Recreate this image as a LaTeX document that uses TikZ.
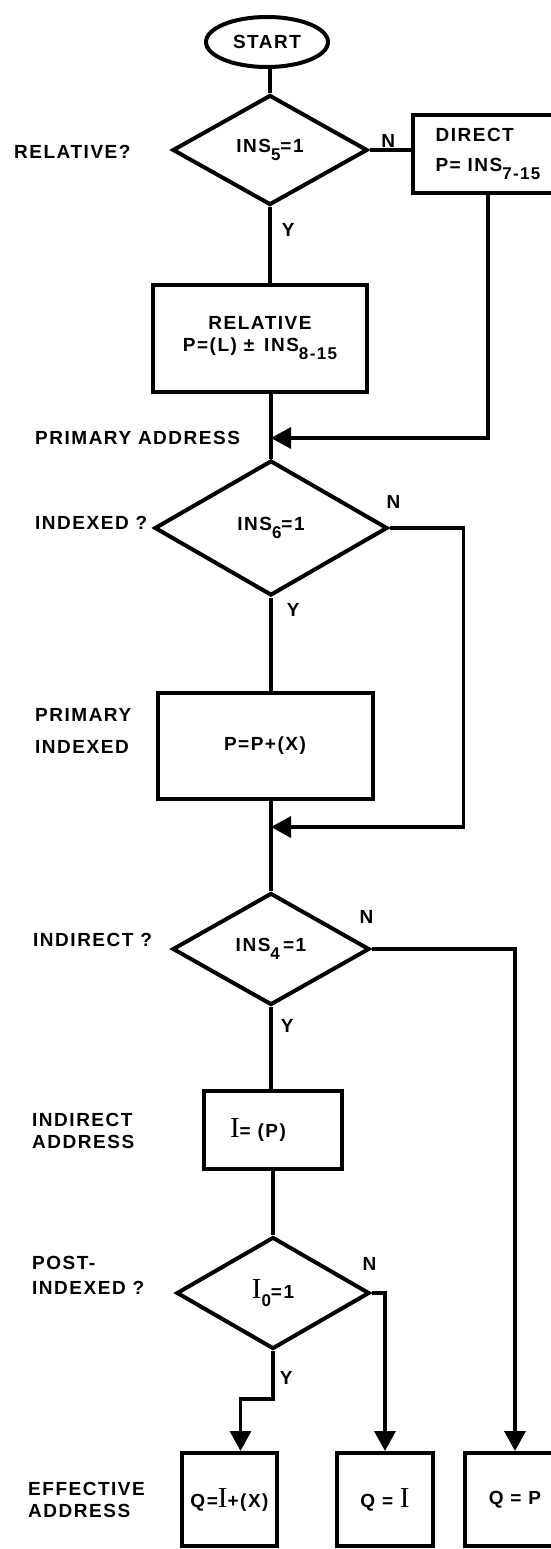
\documentclass[tikz,border=0pt]{standalone}
\usepackage{fontspec}
\setmainfont{Liberation Sans}[LetterSpace=8]
\newfontfamily\romanI{Liberation Serif}
\usepackage{tikz}
\usetikzlibrary{shapes,arrows}
\usetikzlibrary{positioning}
\usetikzlibrary{calc}
\usetikzlibrary{arrows.meta}
\tikzset{>=stealth}
\tikzstyle{line} = [draw, line width=3.5pt, -{Triangle[length=20pt,width=21pt]}]
\tikzstyle{wire} = [draw, line width=3.5pt]
\tikzstyle{decision} = [diamond, draw, line width=4pt, aspect=2, inner sep=0pt]
\tikzstyle{block} = [rectangle, draw, line width=4pt, inner sep=0pt]
\tikzstyle{tag} = [anchor=west, align=left, inner sep=0pt]
\tikzstyle{yn} = [inner sep=1pt]
\newcommand{\lowsub}[1]{\raisebox{-8pt}{\fontsize{17}{17}\selectfont #1}}
\newcommand{\bigI}{{\romanI\mdseries\fontsize{29}{29}\selectfont I}}

\begin{document}
\begin{tikzpicture}[x=1pt, y=-1pt, font=\fontsize{19}{22}\selectfont\bfseries]
    \useasboundingbox (0,0) rectangle (551,1549);
    \clip (0,0) rectangle (551,1549);
    %% Main column
    \node [ellipse, draw, line width=4pt, minimum width=122pt, minimum height=50pt] (start) at (267,42) {START};
    \node [decision, minimum width=195pt, minimum height=110pt] (rel) at (270,150) {INS\lowsub{5}=1};
    \node [block, minimum width=150pt, minimum height=78pt, align=left] (direct) at (488,154) {DIRECT\\[8pt]P= INS\lowsub{7-15}};
    \node [block, minimum width=214pt, minimum height=107pt, align=center] (relbox) at (260,338) {RELATIVE\\P=(L) ± \,INS\lowsub{8-15}};
    \coordinate (m1) at (271,438);
    \node [decision, minimum width=233pt, minimum height=135pt] (idx) at (271,528) {INS\lowsub{6}=1};
    \node [block, minimum width=215pt, minimum height=106pt] (pix) at (265,746) {P=P+(X)};
    \coordinate (m2) at (271,827);
    \node [decision, minimum width=197pt, minimum height=112pt] (ind) at (271,949) {INS\lowsub{4}\,=1};
    \node [block, minimum width=138pt, minimum height=78pt] (iaddr) at (273,1130) {\bigI= (P)\hspace*{30pt}};
    \node [decision, minimum width=193pt, minimum height=112pt] (post) at (273,1293) {\bigI\lowsub{0}=1};
    %% Effective address
    \node [block, minimum width=95pt, minimum height=93pt] (qix) at (229.5,1499.5) {Q=\bigI+(X)};
    \node [block, minimum width=96pt, minimum height=93pt] (qi) at (385,1499.5) {Q = \bigI};
    \node [block, minimum width=100pt, minimum height=93pt] (qp) at (515,1499.5) {Q = P};
    %% Side notes
    \node [tag] (n1) at (14,152) {RELATIVE?};
    \node [tag] (n2) at (35,438) {PRIMARY ADDRESS};
    \node [tag] (n3) at (35,523) {INDEXED ?};
    \node [tag] (n4) at (35,731) {PRIMARY\\[10pt]INDEXED};
    \node [tag] (n5) at (33,940) {INDIRECT ?};
    \node [tag] (n6) at (32,1131) {INDIRECT\\ADDRESS};
    \node [tag] (n7) at (32,1275) {POST-\\[3pt]INDEXED ?};
    \node [tag] (n8) at (28,1500) {EFFECTIVE\\ADDRESS};
    %% Flows
    \path [wire] (rel.north |- start.south) -- (rel.north);
    \path [wire] (rel.east) -- (rel.east -| direct.west) node [yn, midway, above=0pt, xshift=-2pt] {N};
    \path [wire] (rel.south) -- (rel.south |- relbox.north) node [yn, pos=0.3, right=9pt] {Y};
    \path [wire] (idx.north |- relbox.south) -- (idx.north);
    \path [line] (direct.south) |- (m1);
    \path [wire] (idx.south) -- (idx.south |- pix.north) node [yn, pos=0.13, right=13pt] {Y};
    \path [wire] (idx.south |- pix.south) -- (ind.north);
    \path [line] (idx.east) node [yn, above=17pt, xshift=4pt] {N} -- ++(74,0) |- (m2);
    \path [wire] (ind.south) -- (ind.south |- iaddr.north) node [yn, pos=0.23, right=7pt] {Y};
    \path [wire] (iaddr.south) -- (post.north);
    \path [line] (ind.east) node [yn, above=23pt, xshift=-5pt] {N} -| (qp.north);
    \path [line] (post.east) node [yn, above=20pt, xshift=-2pt] {N} -| (qi.north);
    \path [line] (post.south) -- ++(0,48) node [yn, pos=0.56, right=4pt] {Y} -| ([xshift=11pt]qix.north);
\end{tikzpicture}
\end{document}
